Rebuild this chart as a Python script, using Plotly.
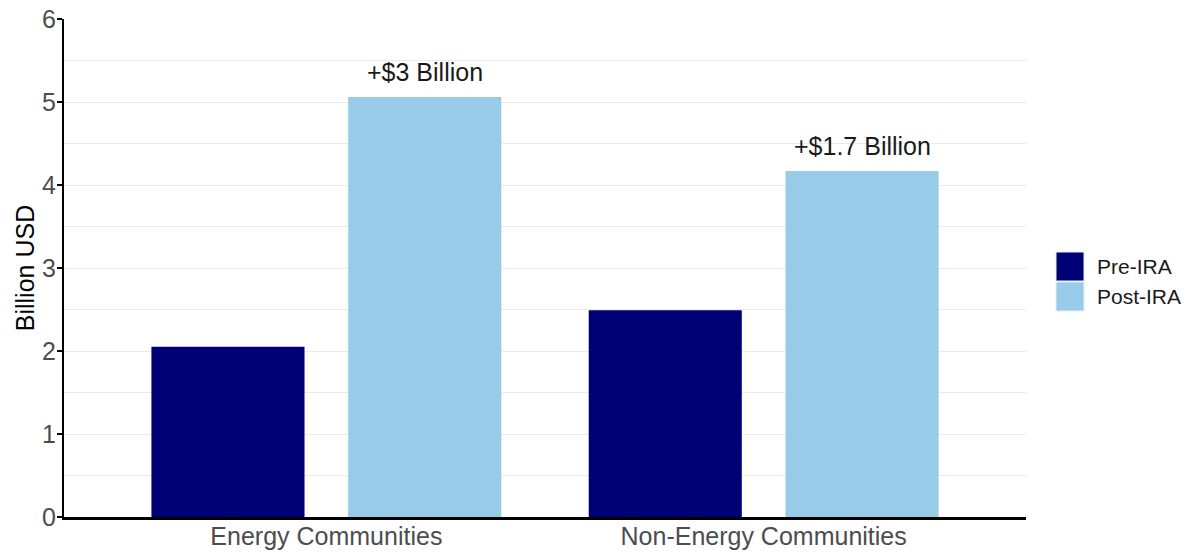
import plotly.graph_objects as go

# Investment totals by community type, before and after the IRA (billion USD)
categories = ["Energy Communities", "Non-Energy Communities"]
pre_ira = [2.05, 2.49]
post_ira = [5.06, 4.17]
change_labels = ["+$3 Billion", "+$1.7 Billion"]
series_names = ["Pre-IRA", "Post-IRA"]
series_colors = ["#000075", "#97CBE7"]

W, H = 1190, 554
L, R, T, B = 64, 164, 19, 37
FONT = "Liberation Sans, Arial, sans-serif"

fig = go.Figure()
for name, vals, col in zip(series_names, [pre_ira, post_ira], series_colors):
    fig.add_trace(go.Bar(
        x=categories, y=vals, name=name, marker_color=col,
        marker_line_width=0, showlegend=False,
    ))

# Change labels above the post-IRA bars
for i, (val, txt) in enumerate(zip(post_ira, change_labels)):
    fig.add_annotation(
        x=i + 0.225, y=val, xref="x", yref="y", text=txt, showarrow=False,
        yanchor="bottom", yshift=9,
        font=dict(family=FONT, size=25, color="#1a1a1a"),
    )

# Legend drawn as swatches with labels at the right of the plot area
pw, ph = W - L - R, H - T - B
sw_x0, sw_x1 = 1056, 1084
sw_top = [252, 282]
for name, col, top in zip(series_names, series_colors, sw_top):
    fig.add_shape(
        type="rect", xref="paper", yref="paper",
        x0=(sw_x0 - L) / pw, x1=(sw_x1 - L) / pw,
        y0=(H - B - (top + 29)) / ph, y1=(H - B - top) / ph,
        fillcolor=col, line=dict(width=1, color="#e8eef4"),
    )
    fig.add_annotation(
        xref="paper", yref="paper",
        x=(1095 - L) / pw, y=(H - B - (top + 14.5)) / ph,
        text=name, showarrow=False, xanchor="left", yanchor="middle",
        font=dict(family=FONT, size=21, color="#1a1a1a"),
    )

fig.update_layout(
    width=W, height=H,
    margin=dict(l=L, r=R, t=T, b=B),
    paper_bgcolor="white", plot_bgcolor="white",
    barmode="group", bargap=0.1, bargroupgap=0.222,
    font=dict(family=FONT, color="#4d4d4d"),
)
fig.update_xaxes(
    range=[-0.6, 1.6], showgrid=False, showline=True, linecolor="black",
    linewidth=2.5, ticks="", automargin=False, ticklabelstandoff=-5,
    tickfont=dict(size=25, color="#4d4d4d"),
)
fig.update_yaxes(
    range=[0, 6], dtick=1, showgrid=True, gridcolor="#ebebeb", gridwidth=1,
    minor=dict(dtick=0.5, showgrid=True, gridcolor="#ebebeb", gridwidth=1),
    showline=True, linecolor="black", linewidth=2, ticks="outside",
    ticklen=5, tickcolor="black", tickwidth=1.5, zeroline=False,
    automargin=False, ticklabelstandoff=-4,
    tickfont=dict(size=25, color="#4d4d4d"),
    title=dict(text="Billion USD", font=dict(size=25, color="black"), standoff=0),
)

fig.write_html("out.html")
